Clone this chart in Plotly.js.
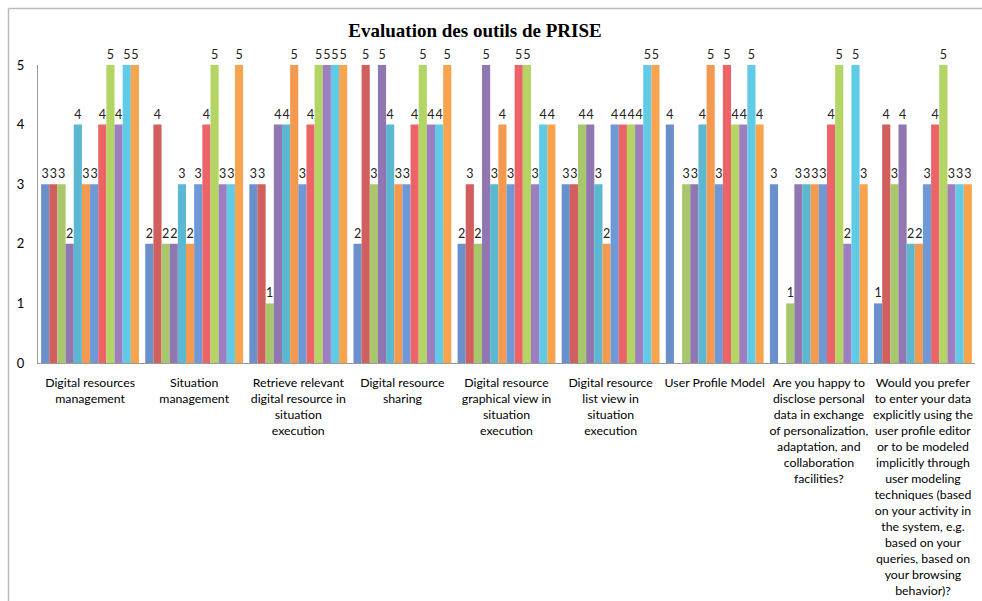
<!DOCTYPE html>
<html>
<head>
<meta charset="utf-8">
<script src="https://cdn.plot.ly/plotly-3.0.1.min.js"></script>
<style>html,body{margin:0;padding:0;background:#fff;} #chart{width:982px;height:601px;}</style>
</head>
<body>
<div id="chart"></div>
<script>
const categories = [
  "Digital resources<br>management",
  "Situation<br>management",
  "Retrieve relevant<br>digital resource in<br>situation<br>execution",
  "Digital resource<br>sharing",
  "Digital resource<br>graphical view in<br>situation<br>execution",
  "Digital resource<br>list view in<br>situation<br>execution",
  "User Profile Model",
  "Are you happy to<br>disclose personal<br>data in exchange<br>of personalization,<br>adaptation, and<br>collaboration<br>facilities?",
  "Would you prefer<br>to enter your data<br>explicitly using the<br>user profile editor<br>or to be modeled<br>implicitly through<br>user modeling<br>techniques (based<br>on your activity in<br>the system, e.g.<br>based on your<br>queries, based on<br>your browsing<br>behavior)?"
];
const seriesNames = ["Series 1","Series 2","Series 3","Series 4","Series 5","Series 6","Series 7","Series 8","Series 9","Series 10","Series 11","Series 12"];
const s1  = [3, 2, 3, 2, 2, 3, 4, 3, 1];
const s2  = [3, 4, 3, 5, 3, 3, null, null, 4];
const s3  = [3, 2, 1, 3, 2, 4, 3, 1, 3];
const s4  = [2, 2, 4, 5, 5, 4, 3, 3, 4];
const s5  = [4, 3, 4, 4, 3, 3, 4, 3, 2];
const s6  = [3, 2, 5, 3, 4, 2, 5, 3, 2];
const s7  = [3, 3, 3, 3, 3, 4, 3, 3, 3];
const s8  = [4, 4, 4, 4, 5, 4, 5, 4, 4];
const s9  = [5, 5, 5, 5, 5, 4, 4, 5, 5];
const s10 = [4, 3, 5, 4, 3, 4, 4, 2, 3];
const s11 = [5, 3, 5, 4, 4, 5, 5, 5, 3];
const s12 = [5, 5, 5, 5, 4, 5, 4, 3, 3];
const seriesValues = [s1,s2,s3,s4,s5,s6,s7,s8,s9,s10,s11,s12];
const colors = ["#6A90CB","#D05F5E","#A8C66C","#9077B2","#5BB8D0","#F39A50",
                "#6E98D6","#EC6468","#B4D464","#9E7EC0","#5FCBE6","#F8A44F"];
const title = "Evaluation des outils de PRISE";

const traces = seriesValues.map((vals, i) => ({
  type: "bar",
  name: seriesNames[i],
  x: categories,
  y: vals,
  marker: {color: colors[i]},
  text: vals.map(v => v === null ? "" : String(v)),
  textposition: "outside",
  textfont: {family: "Lato, 'Open Sans', sans-serif", size: 12.5, color: "#222"},
  cliponaxis: false,
  hoverinfo: "y+name"
}));

const x0 = 38, x1 = 975, yTop = 65, yBot = 363;
const pw = x1 - x0, ph = yBot - yTop;
const layout = {
  width: 982, height: 601,
  margin: {l: x0, r: 982 - x1, t: yTop, b: 601 - yBot},
  paper_bgcolor: "#fff", plot_bgcolor: "#fff",
  showlegend: false,
  barmode: "group",
  bargap: 0.06,
  bargroupgap: 0,
  title: {text: "<b>" + title + "</b>", font: {family: "'Liberation Serif', 'Times New Roman', serif", size: 19, color: "#000"},
          x: 475 / 982, xanchor: "center", y: 1 - 30 / 601, yanchor: "middle"},
  xaxis: {
    type: "category",
    showline: true, linecolor: "#999", linewidth: 1,
    showgrid: false, ticks: "", zeroline: false,
    tickfont: {family: "Lato, 'Open Sans', sans-serif", size: 12.3, color: "#000"},
    tickangle: 0, automargin: false, ticklabelstandoff: 8
  },
  yaxis: {
    range: [0, 5], dtick: 1, tick0: 0,
    showline: true, linecolor: "#999", linewidth: 1,
    showgrid: false, zeroline: false, ticks: "",
    tickfont: {family: "Lato, 'Open Sans', sans-serif", size: 13, color: "#000"},
    ticklabelstandoff: 10, automargin: false
  },
  shapes: [
    {type: "line", xref: "paper", yref: "paper",
     x0: (8.5 - x0) / pw, x1: (8.5 - x0) / pw, y0: 1 + (yTop - 8.5) / ph, y1: -(601 - yBot) / ph,
     line: {color: "#bbb", width: 1.5}},
    {type: "line", xref: "paper", yref: "paper",
     x0: (8.5 - x0) / pw, x1: (982 - x0) / pw, y0: 1 + (yTop - 8.5) / ph, y1: 1 + (yTop - 8.5) / ph,
     line: {color: "#bbb", width: 1.5}}
  ]
};
Plotly.newPlot("chart", traces, layout, {displayModeBar: false, staticPlot: true});
</script>
</body>
</html>
